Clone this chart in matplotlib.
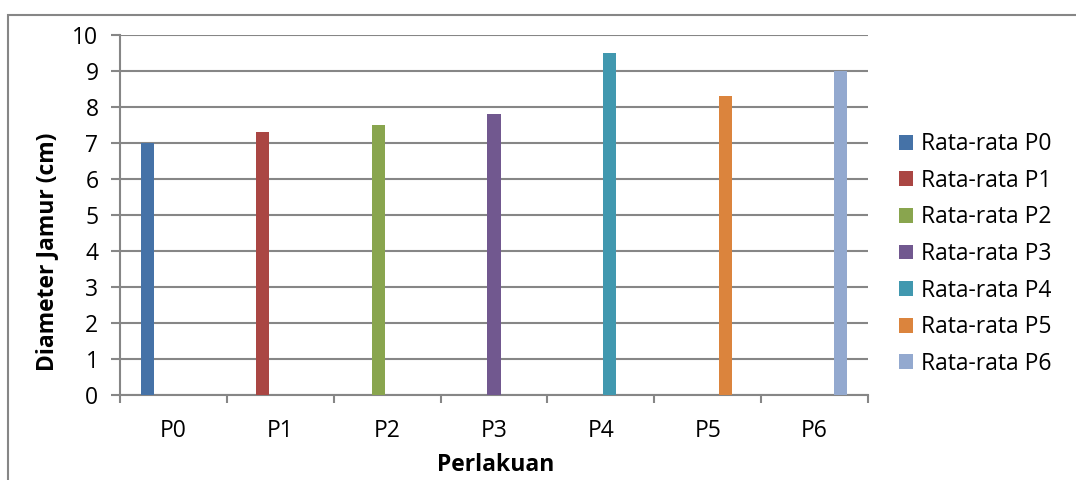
import matplotlib.pyplot as plt
import numpy as np
from matplotlib.patches import Rectangle

plt.rcParams['font.family'] = ['Open Sans', 'DejaVu Sans']

# rata-rata diameter jamur per perlakuan
perlakuan = ['P0', 'P1', 'P2', 'P3', 'P4', 'P5', 'P6']
seri = ['Rata-rata P0', 'Rata-rata P1', 'Rata-rata P2', 'Rata-rata P3',
        'Rata-rata P4', 'Rata-rata P5', 'Rata-rata P6']
rata_rata = [7.0, 7.3, 7.5, 7.8, 9.5, 8.3, 9.0]
warna = ['#4572A7', '#AA4643', '#89A54E', '#71588F', '#4198AF', '#DB843D', '#93A9CF']
y_ticks = [0, 1, 2, 3, 4, 5, 6, 7, 8, 9, 10]

W, H = 1076, 480
fs = 16.5
fig = plt.figure(figsize=(W / 100, H / 100), dpi=100)
grey = '#868686'

# grey border round the chart area (runs off the right and bottom edges)
fig.patches.append(Rectangle((8 / W, -0.1), 1.2, 1.1 - 15 / H,
                             transform=fig.transFigure, fill=False,
                             edgecolor=grey, linewidth=1.5))

ax = fig.add_axes([120 / W, 1 - 395 / H, (868 - 120) / W, (395 - 35) / H])

# clustered columns, each series only has a value in its own category
n = len(seri)
step = 0.082
lebar = 0.122
for i in range(n):
    nilai = np.zeros(n)
    nilai[i] = rata_rata[i]
    x = np.arange(n) + (i - 3) * step
    ax.bar(x, nilai, width=lebar, color=warna[i], label=seri[i], zorder=3)

ax.set_xlim(-0.5, n - 0.5)
ax.set_ylim(0, 10)
ax.set_yticks(y_ticks)
ax.yaxis.grid(True, color=grey, linewidth=1.5, zorder=0)
ax.set_axisbelow(True)

# major ticks at category borders, labels on minor ticks
ax.set_xticks(np.arange(n + 1) - 0.5)
ax.set_xticklabels([])
ax.set_xticks(np.arange(n), minor=True)
ax.set_xticklabels(perlakuan, minor=True, fontsize=fs)
ax.tick_params(axis='x', which='major', length=6, width=1.5, color=grey, direction='out')
ax.tick_params(axis='x', which='minor', length=0, pad=17)
ax.tick_params(axis='y', length=6.5, width=1.5, color=grey, labelsize=fs, pad=9)

for s in ['top', 'right']:
    ax.spines[s].set_visible(False)
for s in ['left', 'bottom']:
    ax.spines[s].set_color(grey)
    ax.spines[s].set_linewidth(1.5)

# axis titles
fig.text(47 / W, 1 - 252 / H, 'Diameter Jamur (cm)', fontsize=fs, fontweight='bold',
         rotation=90, ha='center', va='center')
fig.text(496 / W, 1 - 465 / H, 'Perlakuan', fontsize=fs, fontweight='bold',
         ha='center', va='center')

ax.legend(loc='center left', bbox_to_anchor=(899 / W, 1 - 254 / H),
          bbox_transform=fig.transFigure, frameon=False, fontsize=fs,
          handlelength=0.62, handleheight=0.62, handletextpad=0.35,
          labelspacing=0.55, borderpad=0, borderaxespad=0)

fig.savefig('out.png', dpi=100)
